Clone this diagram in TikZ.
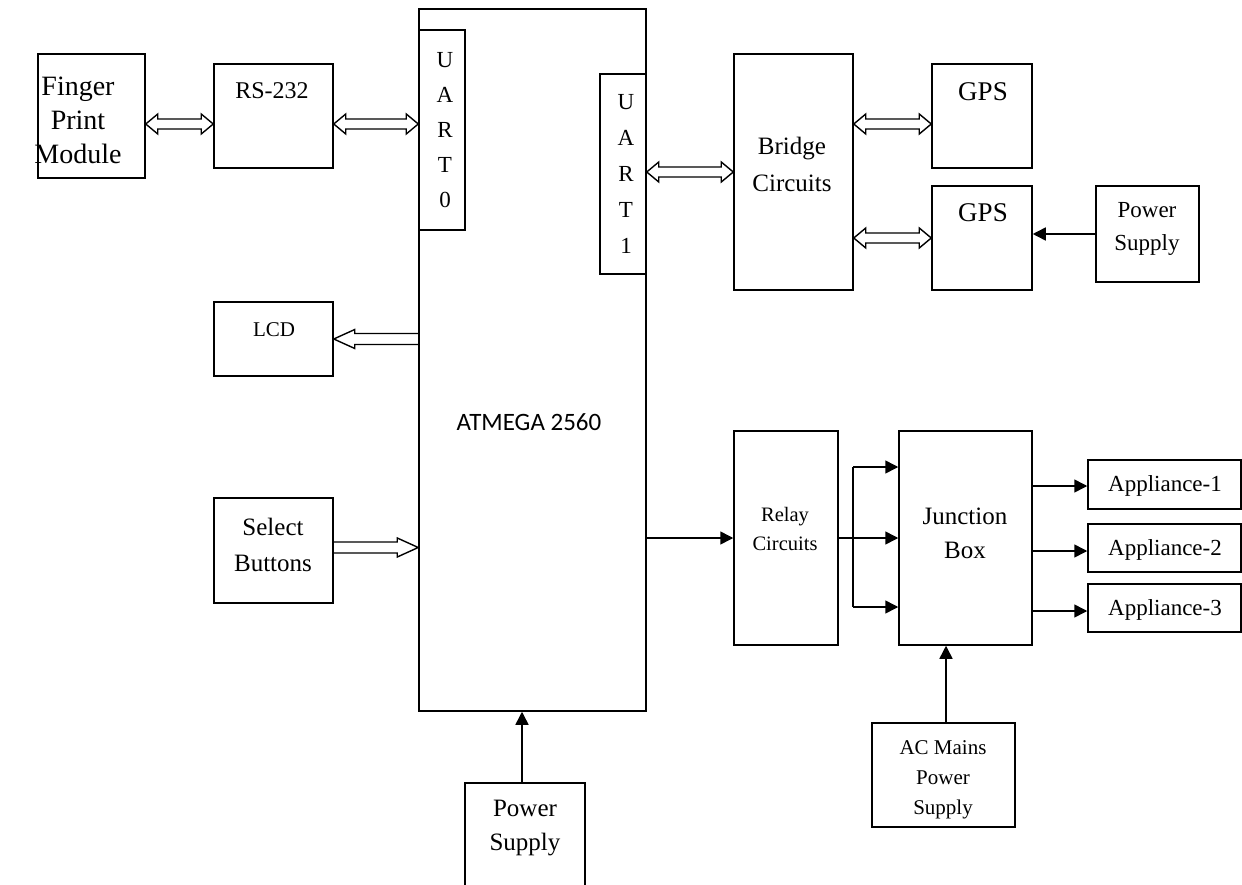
\documentclass[tikz,border=0pt]{standalone}
\usepackage{fontspec}
\setmainfont{Liberation Serif}
\newfontfamily\calfont{Carlito}
\usetikzlibrary{arrows.meta,calc,fit}
\newcommand\blkbox[5]{\node[blk, fit={(#2,#3)(#4,#5)}] (#1) {};}
\begin{document}
\begin{tikzpicture}[x=1pt,y=-1pt,
  blk/.style={draw, line width=1.5pt, inner sep=0pt},
  lbl/.style={inner sep=0pt, align=center, text depth=0pt},
  arr/.style={line width=1.5pt, -{Triangle[length=13pt,width=13pt]}},
  ln/.style={line width=1.5pt},
  hdbl/.style={line width=1.4pt, line join=miter, to path={let \p1=(\tikztostart),\p2=(\tikztotarget),\n1={(\x2>\x1)*2-1} in
     (\p1) -- (\x1+\n1*12pt,\y1+10pt) -- (\x1+\n1*12pt,\y1+5pt) -- (\x2-\n1*12pt,\y1+5pt) -- (\x2-\n1*12pt,\y1+10pt) -- (\p2)
     -- (\x2-\n1*12pt,\y1-10pt) -- (\x2-\n1*12pt,\y1-5pt) -- (\x1+\n1*12pt,\y1-5pt) -- (\x1+\n1*12pt,\y1-10pt) -- cycle}},
  hsgl/.style={line width=1.4pt, line join=miter, to path={let \p1=(\tikztostart),\p2=(\tikztotarget),\n1={(\x2>\x1)*2-1} in
     (\x1,\y1+5.5pt) -- (\x2-\n1*21pt,\y1+5.5pt) -- (\x2-\n1*21pt,\y1+9.5pt) -- (\p2)
     -- (\x2-\n1*21pt,\y1-9.5pt) -- (\x2-\n1*21pt,\y1-5.5pt) -- (\x1,\y1-5.5pt)}}
]
\path[use as bounding box] (0,0) rectangle (1242,885);
\clip (0,0) rectangle (1242,885);

% boxes
\blkbox{fpm}{38}{54}{145}{178}
\blkbox{rs}{214}{64}{333}{168}
\blkbox{atm}{419}{9}{646}{711}
\blkbox{uart0}{419}{30}{465}{230}
\blkbox{uart1}{600}{74}{646}{274}
\blkbox{bridge}{734}{54}{853}{290}
\blkbox{gps1}{932}{64}{1032}{168}
\blkbox{gps2}{932}{186}{1032}{290}
\blkbox{psr}{1096}{186}{1199}{282}
\blkbox{lcd}{214}{302}{333}{376}
\blkbox{sel}{214}{498}{333}{603}
\blkbox{relay}{734}{431}{838}{645}
\blkbox{junc}{899}{431}{1032}{645}
\blkbox{app1}{1088}{460}{1241}{509}
\blkbox{app2}{1088}{524}{1241}{572}
\blkbox{app3}{1088}{584}{1241}{632}
\blkbox{ac}{872}{723}{1015}{827}
\blkbox{psb}{465}{783}{585}{905}

% labels
\node[lbl, font=\fontsize{28}{34}\selectfont] (tfpm) at (78,120) {Finger\\Print\\Module};
\node[lbl, font=\fontsize{24}{28}\selectfont] (trs) at (272,91) {RS-232};
\node[lbl, font=\fontsize{23}{35}\selectfont] (tu0) at (445,130) {U\\A\\R\\T\\0};
\node[lbl, font=\fontsize{23}{36}\selectfont] (tu1) at (626,174) {U\\A\\R\\T\\1};
\node[lbl, font=\fontsize{25}{37}\selectfont] (tbr) at (792,164) {Bridge\\Circuits};
\node[lbl, font=\fontsize{27}{30}\selectfont] (tg1) at (983,92) {GPS};
\node[lbl, font=\fontsize{27}{30}\selectfont] (tg2) at (983,213) {GPS};
\node[lbl, font=\fontsize{23}{33}\selectfont] (tpsr) at (1147,226) {Power\\Supply};
\node[lbl, font=\fontsize{21}{24}\selectfont] (tlcd) at (274,330) {LCD};
\node[lbl, font=\fontsize{25}{36}\selectfont] (tsel) at (273,545) {Select\\Buttons};
\node[lbl, font=\calfont\fontsize{25}{28}\selectfont] (tatm) at (529,422) {ATMEGA 2560};
\node[lbl, font=\fontsize{20.5}{29}\selectfont] (trel) at (785,529) {Relay\\Circuits};
\node[lbl, font=\fontsize{25}{34}\selectfont] (tjb) at (965,533) {Junction\\Box};
\node[lbl, font=\fontsize{23}{26}\selectfont] (ta1) at (1165,484) {Appliance-1};
\node[lbl, font=\fontsize{23}{26}\selectfont] (ta2) at (1165,548) {Appliance-2};
\node[lbl, font=\fontsize{23}{26}\selectfont] (ta3) at (1165,608) {Appliance-3};
\node[lbl, font=\fontsize{21}{30}\selectfont] (tac) at (943,778) {AC Mains\\Power\\Supply};
\node[lbl, font=\fontsize{25}{34}\selectfont] (tpsb) at (525,825) {Power\\Supply};

% hollow double arrows
\coordinate (c1) at ([yshift=-8pt]fpm.east);
\coordinate (c2) at ([yshift=-8pt]rs.east);
\coordinate (c3) at ([yshift=-8pt]gps1.west);
\draw[hdbl] (c1) to (c1 -| rs.west);
\draw[hdbl] (c2) to (c2 -| uart0.west);
\draw[hdbl] (uart1.east |- bridge.west) to (bridge.west);
\draw[hdbl] (bridge.east |- c3) to (c3);
\draw[hdbl] (bridge.east |- gps2.west) to (gps2.west);

% hollow single arrows
\draw[hsgl] (atm.west |- lcd.east) to (lcd.east);
\coordinate (c4) at ([yshift=3pt]sel.east);
\draw[hsgl] (c4) to (c4 -| atm.west);

% solid arrows
\draw[arr] (psr.west) -- (psr.west -| gps2.east);
\draw[arr] (atm.east |- relay.west) -- (relay.west);
\draw[arr] (relay.east) -- (relay.east -| junc.west);
\coordinate (b1) at (853,467);
\coordinate (b2) at (853,607);
\draw[ln] (b1) -- (b2);
\draw[arr] (b1) -- (b1 -| junc.west);
\draw[arr] (b2) -- (b2 -| junc.west);
\draw[arr] (junc.east |- 0,486) -- (app1.west |- 0,486);
\draw[arr] (junc.east |- 0,551) -- (app2.west |- 0,551);
\draw[arr] (junc.east |- 0,611) -- (app3.west |- 0,611);
\coordinate (c5) at (946,723);
\draw[arr] (c5) -- (c5 |- junc.south);
\coordinate (c6) at (522,783);
\draw[arr] (c6) -- (c6 |- atm.south);
\end{tikzpicture}
\end{document}
